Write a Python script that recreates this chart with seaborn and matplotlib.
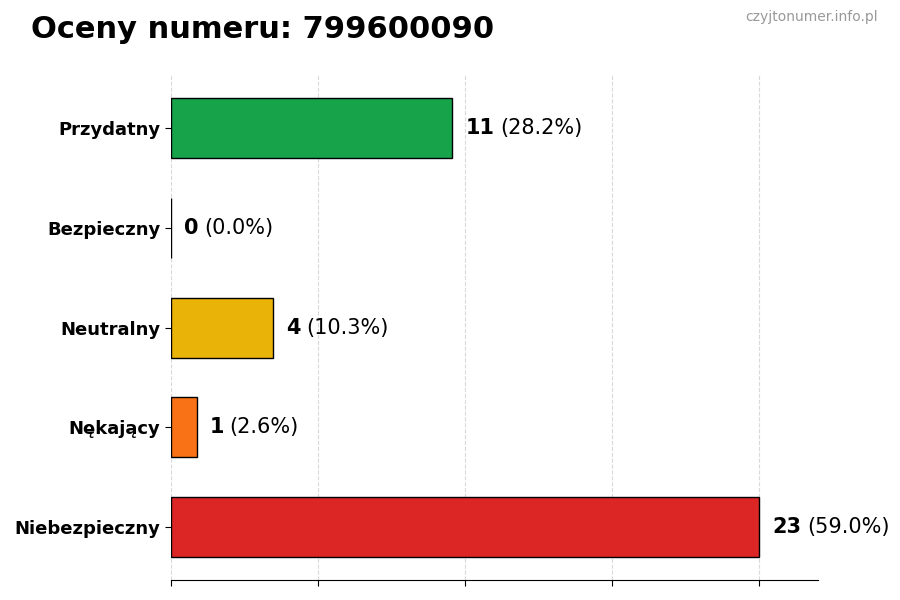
import pandas as pd
import matplotlib.pyplot as plt
import seaborn as sns
from matplotlib.transforms import offset_copy

# data
categories = ["Przydatny", "Bezpieczny", "Neutralny", "Nękający", "Niebezpieczny"]
counts = [11, 0, 4, 1, 23]
colors = ["#16a34a", "#9ca3af", "#eab308", "#f97316", "#dc2626"]
phone = "799600090"

total = sum(counts)
df = pd.DataFrame({"kategoria": categories, "liczba": counts})

sns.set_style("white")
plt.rcParams["text.color"] = "black"
plt.rcParams["xtick.color"] = "black"
plt.rcParams["ytick.color"] = "black"
plt.rcParams["axes.edgecolor"] = "black"

fig = plt.figure(figsize=(9, 6), dpi=100)
ax = fig.add_axes([0.19, 0.033, 0.719, 0.842])

sns.barplot(data=df, y="kategoria", x="liczba", hue="kategoria", palette=colors,
            order=categories, orient="h", width=0.6, legend=False, ax=ax,
            edgecolor="black", linewidth=1, saturation=1)

top = max(counts)
ax.set_xlim(0, top * 1.1)
# matplotlib-like margins instead of seaborn's +-0.5
pad = (len(categories) - 1 + 0.6) * 0.05 + 0.3
ax.set_ylim(len(categories) - 1 + pad, -pad)
ax.set_xticks([top * i / 4 for i in range(5)])
ax.set_xticklabels([])
ax.grid(axis="x", linestyle="--", color="#d9d9d9", linewidth=0.8)
ax.set_axisbelow(True)
ax.set_xlabel("")
ax.set_ylabel("")
for side in ["top", "right", "left"]:
    ax.spines[side].set_visible(False)
ax.tick_params(axis="both", length=4, color="black", left=True, bottom=True)
for lbl in ax.get_yticklabels():
    lbl.set_fontweight("bold")
    lbl.set_fontsize(13)
    lbl.set_color("black")

# value labels: bold count + normal percent
fig.canvas.draw()
renderer = fig.canvas.get_renderer()
for i, (cat, n) in enumerate(zip(categories, counts)):
    pct = n / total * 100
    t = ax.text(n + top * 0.022, i, str(n), va="center", ha="left",
                fontsize=15, fontweight="bold")
    w = t.get_window_extent(renderer).width
    tr = offset_copy(ax.transData, fig=fig, x=w * 72 / fig.dpi + 4, y=0, units="points")
    ax.text(n + top * 0.022, i, f"({pct:.1f}%)", va="center", ha="left",
            fontsize=15, transform=tr, clip_on=False)

fig.text(0.034, 0.95, f"Oceny numeru: {phone}", fontsize=22, fontweight="bold",
         va="center", ha="left")
fig.text(0.975, 0.972, "czyjtonumer.info.pl", fontsize=10, color="#999999",
         va="center", ha="right")

fig.savefig("out.png", dpi=100)
